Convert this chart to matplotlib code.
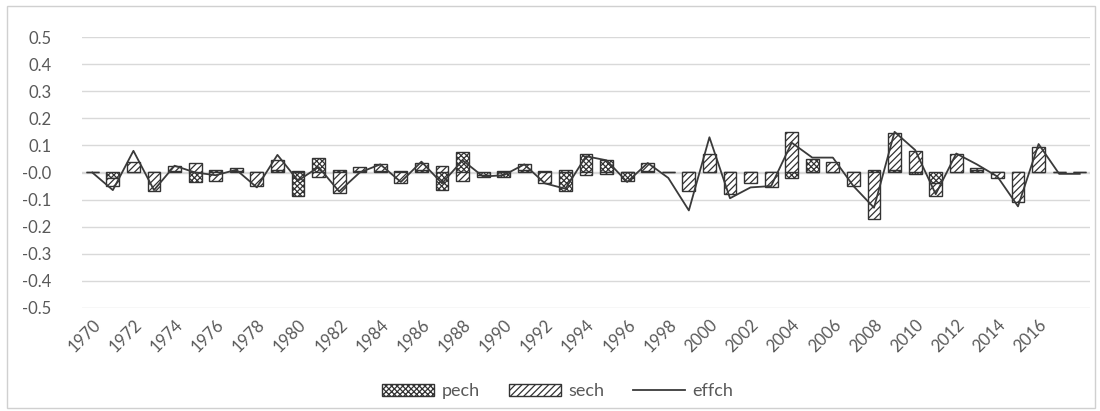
#!/usr/bin/env python3
import matplotlib
matplotlib.use('Agg')
import matplotlib.pyplot as plt
import numpy as np
from matplotlib.patches import Patch, Rectangle
from matplotlib.lines import Line2D

years = list(range(1970, 2019))

pech = [0.0, -0.02, 0.0, 0.0, 0.005, -0.035, 0.01, 0.005, 0.0, 0.01,
        -0.085, 0.055, 0.01, 0.005, 0.005, 0.005, 0.01, -0.065, 0.077, -0.01,
        -0.015, 0.01, 0.005, -0.07, 0.07, 0.045, -0.03, 0.005, 0.0, 0.0,
        0.0, 0.0, 0.0, 0.0, -0.02, 0.05, 0.0, 0.0, 0.01, 0.01,
        -0.005, -0.04, 0.0, 0.01, 0.0, 0.0, 0.0, 0.0, 0.0]

sech = [0.0, -0.03, 0.04, -0.07, 0.02, 0.035, -0.03, 0.01, -0.05, 0.035,
        0.005, -0.015, -0.075, 0.015, 0.025, -0.04, 0.025, 0.025, -0.03, -0.005,
        0.005, 0.02, -0.04, 0.01, -0.01, -0.005, 0.0, 0.03, 0.0, -0.07,
        0.07, -0.08, -0.04, -0.055, 0.15, 0.0, 0.04, -0.05, -0.17, 0.135,
        0.08, -0.045, 0.07, 0.005, -0.02, -0.11, 0.095, 0.0, 0.0]

effch = [0.0, -0.065, 0.08, -0.065, 0.025, 0.0, -0.01, 0.01, -0.055, 0.065,
         -0.03, 0.02, -0.07, 0.0, 0.03, -0.035, 0.04, -0.04, 0.045, -0.015,
         -0.01, 0.03, -0.04, -0.06, 0.06, 0.045, -0.035, 0.035, -0.02, -0.14,
         0.13, -0.095, -0.055, -0.05, 0.11, 0.055, 0.055, -0.05, -0.13, 0.15,
         0.083, -0.08, 0.07, 0.03, -0.015, -0.125, 0.105, -0.005, -0.005]

tick_years = list(range(1970, 2017, 2))

plt.rcParams['font.family'] = ['Lato', 'DejaVu Sans']
plt.rcParams['hatch.linewidth'] = 0.9

fig = plt.figure(figsize=(11, 4.11), dpi=100)
ax = fig.add_axes([82 / 1100, 1 - 308 / 411, 1008 / 1100, 271 / 411])

# chart area border
fig.patches.append(Rectangle((7 / 1100, 3 / 411), 1088 / 1100, 402 / 411,
                             transform=fig.transFigure, fill=False,
                             edgecolor='#d0d0d0', linewidth=1))

x = np.arange(len(years))
p = np.array(pech)
s = np.array(sech)
# stacked like a spreadsheet: same-sign values pile up, opposite signs start at zero
s_bottom = np.where(np.sign(s) == np.sign(p), p, 0.0)

edge = '#333333'
width = 0.62
ax.bar(x, p, width, color='white', edgecolor=edge, hatch='xxxxxx', linewidth=1.0, zorder=2)
ax.bar(x, s, width, bottom=s_bottom, color='white', edgecolor=edge, hatch='/////',
       linewidth=1.0, zorder=2)
ax.plot(x, effch, color='#3a3a3a', linewidth=1.3, zorder=3)

ax.set_ylim(-0.5, 0.5)
ax.set_xlim(-0.5, len(years) - 0.5)
ax.set_yticks(np.arange(-0.5, 0.51, 0.1))
ax.set_yticklabels([f'{v:.1f}' for v in np.arange(-0.5, 0.51, 0.1)])
ax.set_xticks([years.index(y) for y in tick_years])
ax.set_xticklabels([str(y) for y in tick_years], rotation=45, ha='right',
                   rotation_mode='anchor')

ax.grid(axis='y', color='#d9d9d9', linewidth=1.0, zorder=0)
ax.axhline(0, color='#d9d9d9', linewidth=1.0, zorder=1)
ax.set_axisbelow(True)
for sp in ax.spines.values():
    sp.set_visible(False)
ax.tick_params(axis='both', length=0, labelsize=12, colors='#595959')
ax.tick_params(axis='y', pad=22)
ax.tick_params(axis='x', pad=6)

handles = [Patch(facecolor='white', edgecolor=edge, hatch='xxxxxx', label='pech'),
           Patch(facecolor='white', edgecolor=edge, hatch='/////', label='sech'),
           Line2D([0], [0], color='#3a3a3a', linewidth=1.3, label='effch')]
fig.legend(handles=handles, loc='center', bbox_to_anchor=(0.507, 0.048), ncol=3,
           frameon=False, fontsize=13, labelcolor='#595959', handlelength=2.9,
           handletextpad=0.4, columnspacing=1.6)

fig.savefig('out.png', dpi=100)
